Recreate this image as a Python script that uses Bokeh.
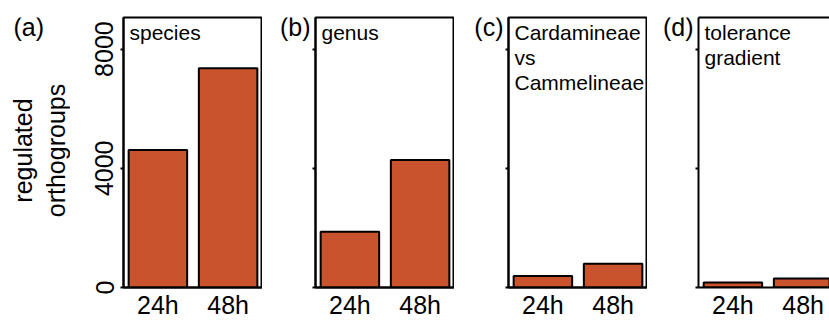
from bokeh.plotting import figure
from bokeh.layouts import row
from bokeh.models import Label, LinearAxis, FixedTicker, Range1d
from bokeh.embed import file_html
from bokeh.resources import INLINE

# ---- data ----
categories = ["24h", "48h"]
panel_tags = ["(a)", "(b)", "(c)", "(d)"]
panel_titles = [["species"], ["genus"], ["Cardamineae", "vs", "Cammelineae"], ["tolerance", "gradient"]]
species = [4610, 7360]
genus = [1870, 4275]
cardamineae_vs_cammelineae = [390, 800]
tolerance_gradient = [170, 300]
series = [species, genus, cardamineae_vs_cammelineae, tolerance_gradient]
y_ticks = [0, 4000, 8000]
y_label = "regulated\northogroups"

# ---- style / layout ----
FONT = "Liberation Sans"
BAR = "#C9532D"
Y_MAX = 9060
# R barplot geometry: width 1, space 0.2, 4% range extension
centers = [round(0.2 + 1.2 * i + 0.5, 6) for i in range(len(categories))]
x_lo = 0.2 - 0.04 * 2.2
x_hi = 2.4 + 0.04 * 2.2

H = 321
TOP = 17
BOTTOM = 31
FH = H - TOP - BOTTOM
FRAME_BOTTOM = H - BOTTOM  # 290 px from top
STRIP_TOP = 6

# widths of the tag strips before each panel, left borders, frame widths
strip_w = [70, 49, 50, 47]
left_borders = [53, 4, 4, 4]
frame_w = [139, 139, 139, 131]


def strip(i):
    w = strip_w[i]
    s = figure(width=w, height=H, x_range=Range1d(0, w), y_range=Range1d(0, FRAME_BOTTOM - STRIP_TOP),
               output_backend="svg", toolbar_location=None, title=None,
               min_border_left=0, min_border_right=0,
               min_border_top=STRIP_TOP, min_border_bottom=BOTTOM,
               x_axis_type=None, y_axis_type=None)
    s.grid.visible = False
    s.outline_line_color = None
    s.background_fill_color = "white"
    s.border_fill_color = "white"
    # positions measured in px from the top of the picture -> distance above frame bottom
    if i == 0:
        s.add_layout(Label(x=13, y=FRAME_BOTTOM - 29, x_units="screen", y_units="screen",
                           text=panel_tags[i], text_align="left", text_baseline="middle",
                           text_font=FONT, text_font_size="25px", text_color="black"))
        s.add_layout(Label(x=39, y=FRAME_BOTTOM - 153, x_units="screen", y_units="screen",
                           text=y_label, angle=90, angle_units="deg",
                           text_align="center", text_baseline="middle",
                           text_line_height=1.2,
                           text_font=FONT, text_font_size="25px", text_color="black"))
    else:
        s.add_layout(Label(x=w - 1, y=FRAME_BOTTOM - 29, x_units="screen", y_units="screen",
                           text=panel_tags[i], text_align="right", text_baseline="middle",
                           text_font=FONT, text_font_size="25px", text_color="black"))
    return s


def make_panel(i):
    fw = frame_w[i]
    full = x_hi - x_lo
    xr_end = x_lo + full * fw / 139.0
    p = figure(width=left_borders[i] + fw, height=H,
               x_range=Range1d(x_lo, xr_end), y_range=Range1d(0, Y_MAX),
               output_backend="svg", toolbar_location=None, title=None,
               min_border_left=left_borders[i], min_border_right=0,
               min_border_top=TOP, min_border_bottom=BOTTOM,
               x_axis_type=None, y_axis_type=None)
    p.grid.visible = False
    p.background_fill_color = "white"
    p.border_fill_color = "white"

    vals = series[i]
    p.vbar(x=centers, top=vals, width=1.0, bottom=0,
           fill_color=BAR, line_color="black", line_width=2)

    # y axis
    ya = LinearAxis(ticker=FixedTicker(ticks=y_ticks))
    ya.major_tick_out = 3
    ya.major_tick_in = 0
    ya.minor_tick_out = 0
    ya.minor_tick_in = 0
    ya.major_tick_line_width = 2
    ya.major_tick_line_color = "black"
    ya.axis_line_color = "black"
    ya.axis_line_width = 2
    ya.major_label_text_font = FONT
    ya.major_label_text_font_size = "25px"
    ya.major_label_text_color = "black"
    if i == 0:
        ya.major_label_orientation = "vertical"
        ya.major_label_standoff = 7
    else:
        ya.major_label_overrides = {t: "" for t in y_ticks}
        ya.major_label_standoff = 0
    p.add_layout(ya, "left")

    # x axis
    xa = LinearAxis(ticker=FixedTicker(ticks=centers))
    xa.major_label_overrides = {c: lab for c, lab in zip(centers, categories)}
    xa.major_tick_out = 0
    xa.major_tick_in = 0
    xa.minor_tick_out = 0
    xa.minor_tick_in = 0
    xa.axis_line_color = "black"
    xa.axis_line_width = 2
    xa.major_label_text_font = FONT
    xa.major_label_text_font_size = "25px"
    xa.major_label_text_color = "black"
    xa.major_label_standoff = 3
    p.add_layout(xa, "below")

    if i < 3:
        p.outline_line_color = "black"
        p.outline_line_width = 2
        p.outline_line_alpha = 1.0
    else:
        p.outline_line_color = None
        ta = LinearAxis(ticker=FixedTicker(ticks=[]))
        ta.major_tick_out = 0
        ta.major_tick_in = 0
        ta.minor_tick_out = 0
        ta.minor_tick_in = 0
        ta.major_label_standoff = 0
        ta.axis_line_color = "black"
        ta.axis_line_width = 2
        p.add_layout(ta, "above")

    # inset title lines
    for k, line in enumerate(panel_titles[i]):
        lab = Label(x=6, y=FH - 18 - 25 * k, x_units="screen", y_units="screen",
                    text=line, text_align="left", text_baseline="alphabetic",
                    text_font=FONT, text_font_size="21px", text_color="black")
        p.add_layout(lab)
    return p


items = []
for i in range(4):
    items.append(strip(i))
    items.append(make_panel(i))
layout = row(*items, spacing=0)

open("out.html", "w").write(file_html(layout, INLINE))
